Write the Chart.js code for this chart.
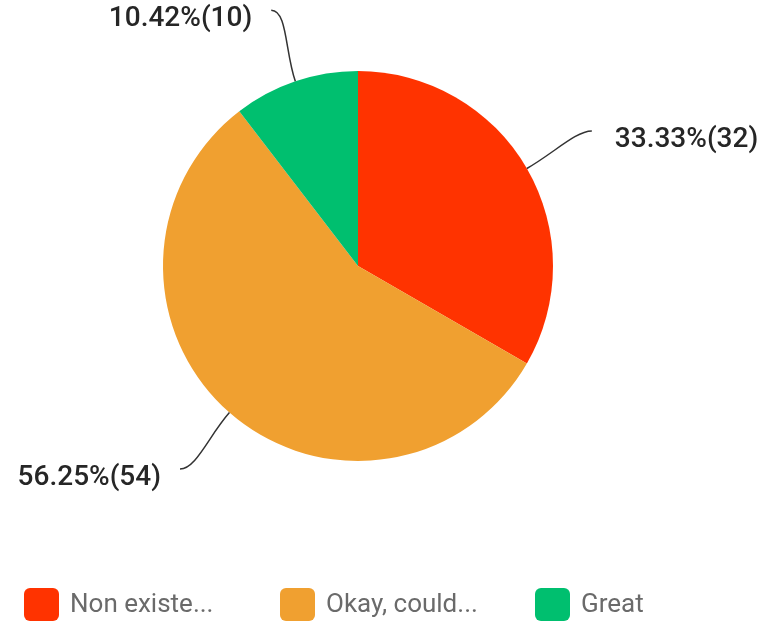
<!DOCTYPE html>
<html>
<head>
<meta charset="utf-8">
<script src="https://cdn.jsdelivr.net/npm/chart.js@4/dist/chart.umd.min.js"></script>
<style>
  html, body { margin: 0; padding: 0; background: #ffffff; }
  #wrap { width: 762px; height: 623px; }
</style>
</head>
<body>
<div id="wrap"><canvas id="c" width="762" height="623"></canvas></div>
<script>
// ---- data ----
const categories = ["Non existent", "Okay, could be better", "Great"];
const legendLabels = ["Non existe...", "Okay, could...", "Great"];
const counts = [32, 54, 10];
const percents = ["33.33%", "56.25%", "10.42%"];
const colors = ["#FF3300", "#F0A030", "#00BF6F"];

const labelPlugin = {
  id: 'leaderLabels',
  afterDatasetsDraw(chart) {
    const ctx = chart.ctx;
    const meta = chart.getDatasetMeta(0);
    ctx.save();
    meta.data.forEach((arc, i) => {
      const p = arc.getProps(['x', 'y', 'startAngle', 'endAngle', 'outerRadius'], true);
      const mid = (p.startAngle + p.endAngle) / 2;
      const dx = Math.cos(mid), dy = Math.sin(mid);
      const r = p.outerRadius;
      const P = { x: p.x + dx * r, y: p.y + dy * r };
      const E = { x: p.x + dx * (r + 75), y: p.y + dy * (r + 75) };
      const side = dx >= 0 ? 1 : -1;
      const c1 = { x: p.x + dx * (r + 32), y: p.y + dy * (r + 32) };
      const c2 = { x: E.x - side * 16, y: E.y };
      ctx.beginPath();
      ctx.moveTo(P.x, P.y);
      ctx.bezierCurveTo(c1.x, c1.y, c2.x, c2.y, E.x, E.y);
      ctx.strokeStyle = '#333333';
      ctx.lineWidth = 1.5;
      ctx.stroke();
      ctx.font = '500 28px Roboto';
      ctx.fillStyle = '#262626';
      ctx.textBaseline = 'middle';
      ctx.textAlign = side > 0 ? 'left' : 'right';
      ctx.fillText(percents[i] + '(' + counts[i] + ')', E.x + (side > 0 ? 23 : -19), E.y + 9);
    });
    ctx.restore();
  }
};

const legendPlugin = {
  id: 'customLegend',
  afterDraw(chart) {
    const ctx = chart.ctx;
    const starts = [24, 280, 535];
    const boxW = 35, boxH = 33, y0 = 588;
    ctx.save();
    legendLabels.forEach((t, i) => {
      const x = starts[i];
      ctx.beginPath();
      if (ctx.roundRect) ctx.roundRect(x, y0, boxW, boxH, 6); else ctx.rect(x, y0, boxW, boxH);
      ctx.fillStyle = colors[i];
      ctx.fill();
      ctx.font = '400 26px Roboto';
      ctx.fillStyle = '#6a6a6a';
      ctx.textBaseline = 'middle';
      ctx.textAlign = 'left';
      ctx.fillText(t, x + boxW + 11, y0 + boxH / 2 + 1);
    });
    ctx.restore();
  }
};

new Chart(document.getElementById('c'), {
  type: 'pie',
  data: {
    labels: categories,
    datasets: [{
      data: counts,
      backgroundColor: colors,
      borderWidth: 0
    }]
  },
  options: {
    responsive: false,
    animation: false,
    layout: { padding: { left: 163, right: 209, top: 71, bottom: 162 } },
    plugins: {
      legend: { display: false },
      tooltip: { enabled: false }
    }
  },
  plugins: [labelPlugin, legendPlugin]
});
</script>
</body>
</html>
